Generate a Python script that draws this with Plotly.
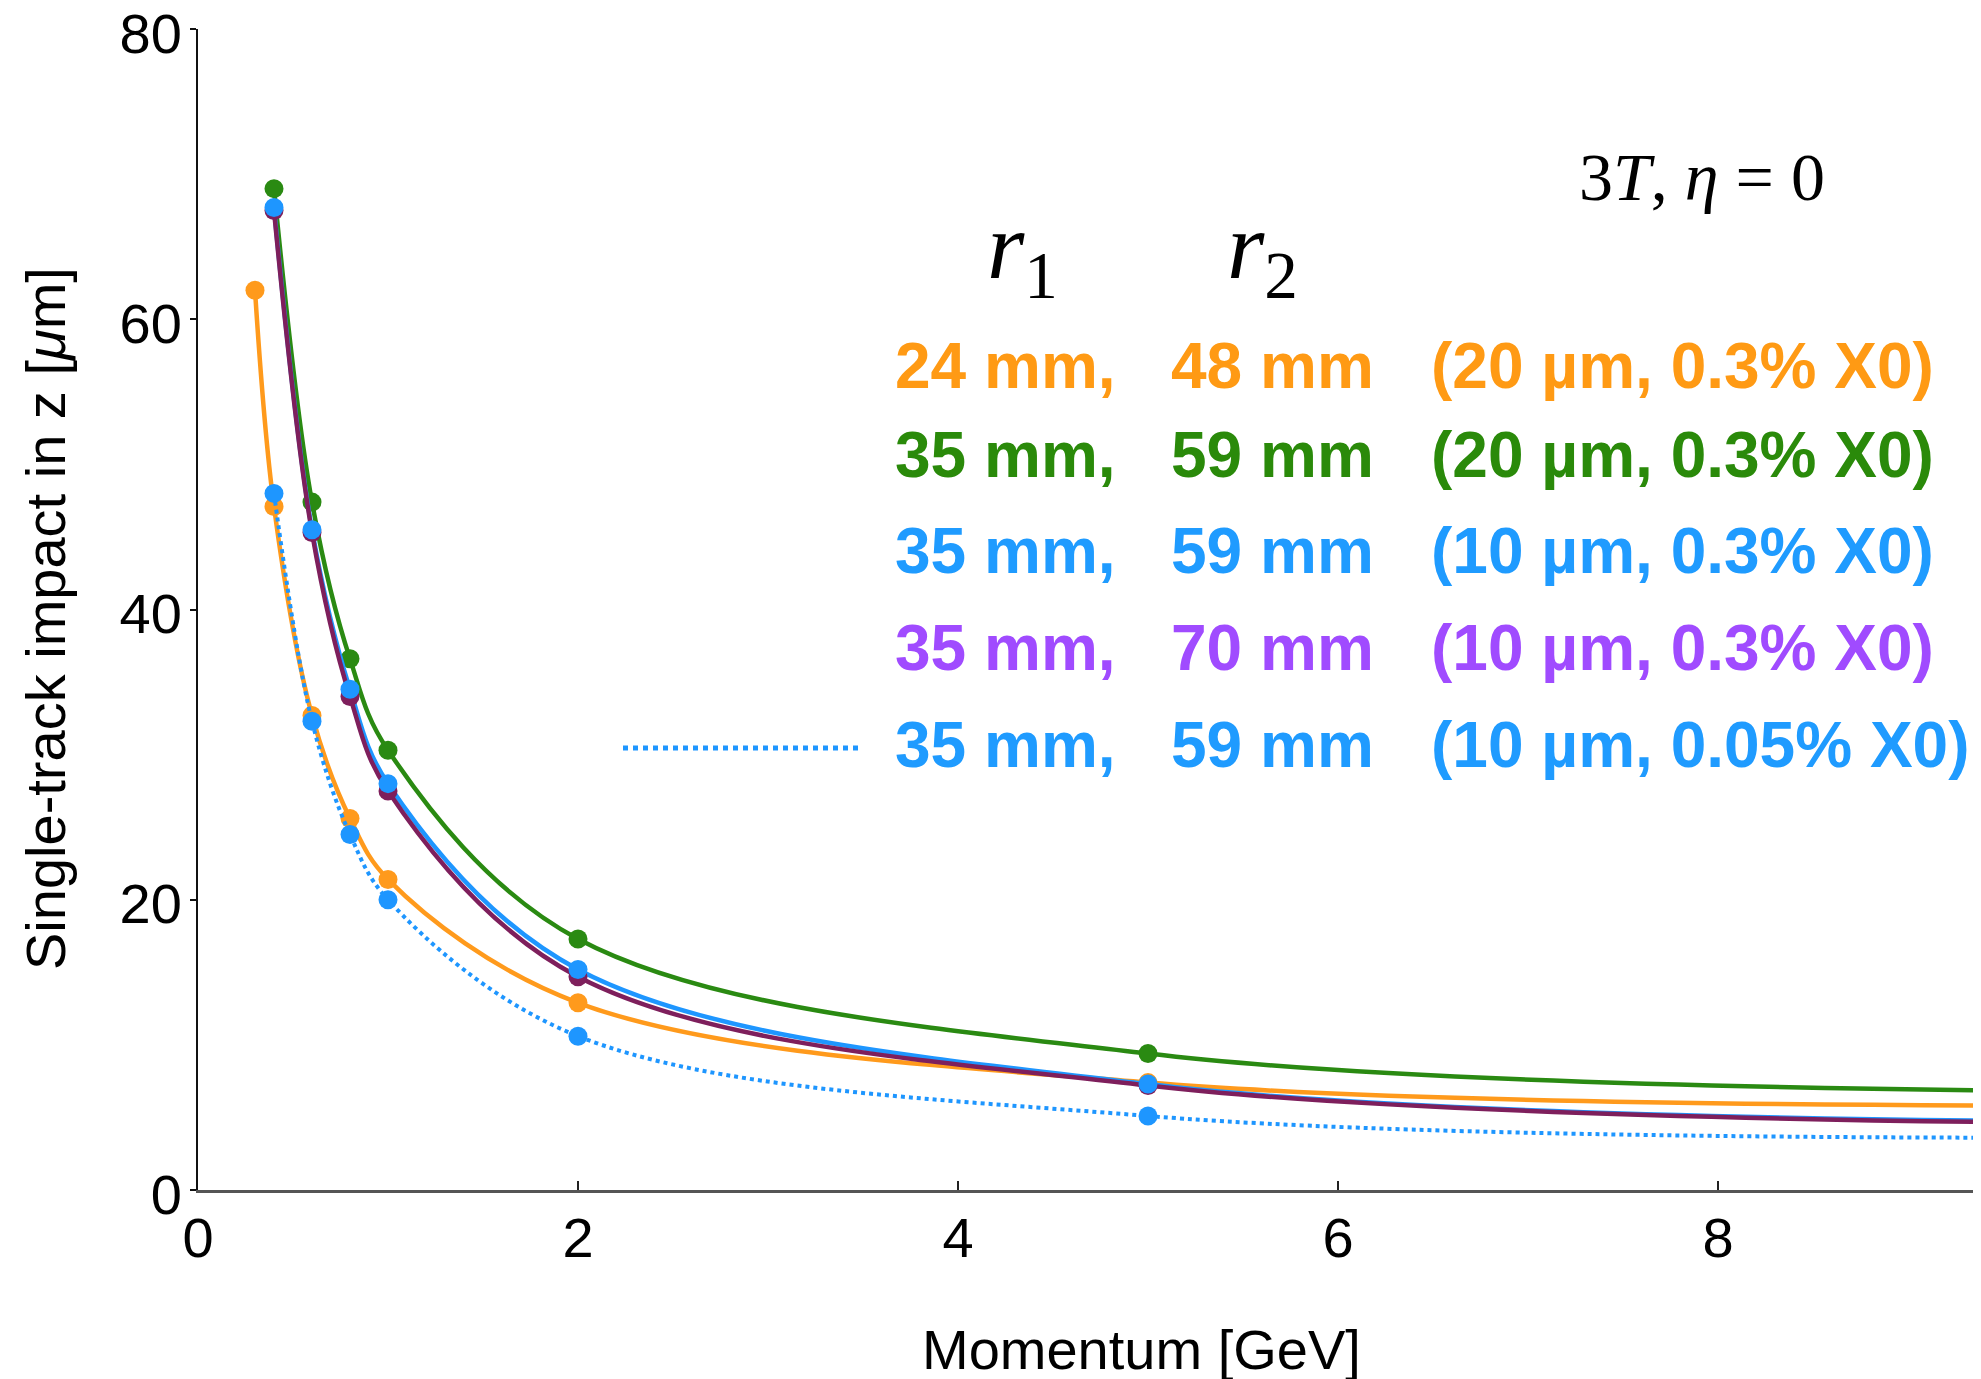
import plotly.graph_objects as go

# ---------------- data ----------------
p_orange = [0.3, 0.4, 0.6, 0.8, 1.0, 2.0, 5.0, 10.0]
y_orange = [62.0, 47.1, 32.7, 25.6, 21.4, 12.9, 7.4, 5.8]

p_main = [0.4, 0.6, 0.8, 1.0, 2.0, 5.0, 10.0]
y_green = [69.0, 47.4, 36.6, 30.3, 17.3, 9.4, 6.8]
y_blue = [67.7, 45.5, 34.5, 28.0, 15.2, 7.3, 4.7]
y_purple = [67.5, 45.3, 34.0, 27.5, 14.7, 7.2, 4.6]
y_blue_dot = [48.0, 32.3, 24.5, 20.0, 10.6, 5.1, 3.6]

x_ticks = [0, 2, 4, 6, 8]
y_ticks = [0, 20, 40, 60, 80]

legend_r1 = ["24 mm,", "35 mm,", "35 mm,", "35 mm,", "35 mm,"]
legend_r2 = ["48 mm", "59 mm", "59 mm", "70 mm", "59 mm"]
legend_spec = ["(20 µm, 0.3% X0)", "(20 µm, 0.3% X0)", "(10 µm, 0.3% X0)",
               "(10 µm, 0.3% X0)", "(10 µm, 0.05% X0)"]

# ---------------- styles ----------------
C_ORANGE_LINE = "#FF9A1C"
C_GREEN_LINE = "#2A8A12"
C_BLUE_LINE = "#1E96FF"
C_PURPLE_LINE = "#7E1F5C"
TXT_COLORS = ["#FF9A14", "#2A8A0A", "#1F9BFF", "#A04BFF", "#1F9BFF"]

OFF = 8  # page body margin of the browser
W, H = 1981 - OFF, 1379 - OFF
L, T = 198 - OFF, 29 - OFF
B = H - (1190 - OFF)
R = 0
PW, PH = W - L - R, H - T - B

def px(x):  # reference pixel -> paper
    return (x - 198) / PW

def py(y):
    return (1190 - y) / PH

LW = 4.5
MS = 19

fig = go.Figure()

def add(xs, ys, color, mode="lines+markers", dash="solid", lw=LW):
    fig.add_trace(go.Scatter(
        x=xs, y=ys, mode=mode,
        line=dict(color=color, width=lw, shape="spline", smoothing=1.0, dash=dash),
        marker=dict(color=color, size=MS),
        showlegend=False, hoverinfo="x+y"))

add(p_orange, y_orange, C_ORANGE_LINE)
add(p_main, y_green, C_GREEN_LINE)
add(p_main, y_blue_dot, C_BLUE_LINE, dash="dot", lw=4)
add(p_main, y_blue, C_BLUE_LINE, mode="lines")
add(p_main, y_purple, C_PURPLE_LINE)
add(p_main, y_blue, C_BLUE_LINE, mode="markers")

FONT = "Liberation Sans"
SERIF = "Liberation Serif"

x_per_unit = (1718 - 198) / 8
fig.update_xaxes(
    range=[0, (1981 - 198) / x_per_unit],
    tickvals=x_ticks, ticktext=[str(v) for v in x_ticks],
    showgrid=False, zeroline=False,
    showline=True, linecolor="#555555", linewidth=3,
    ticks="inside", ticklen=9, tickwidth=2, tickcolor="#222222",
    tickfont=dict(family=FONT, size=56, color="black"),
    ticklabelstandoff=-3, ticklabeloverflow="allow",
)
fig.update_yaxes(
    range=[0, 80],
    tickvals=y_ticks, ticktext=[str(v) for v in y_ticks],
    showgrid=False, zeroline=False,
    showline=True, linecolor="#111111", linewidth=2,
    ticks="outside", ticklen=6, tickwidth=2, tickcolor="#111111",
    tickfont=dict(family=FONT, size=56, color="black"),
    ticklabelstandoff=-3, ticklabelshift=4, ticklabeloverflow="allow",
)

ann = []
ann.append(dict(text="Momentum [GeV]", x=px(1141), y=py(1350), xref="paper", yref="paper",
                xanchor="center", yanchor="middle", showarrow=False,
                font=dict(family=FONT, size=56, color="black")))
ann.append(dict(text="Single-track impact in z [<i>μ</i>m]", x=px(45), y=py(619),
                xref="paper", yref="paper", xanchor="center", yanchor="middle",
                textangle=-90, showarrow=False,
                font=dict(family=FONT, size=56, color="black")))
ann.append(dict(text="3<i>T</i>, <i>η</i> = 0", x=px(1702), y=py(177), xref="paper", yref="paper",
                xanchor="center", yanchor="middle", showarrow=False,
                font=dict(family=SERIF, size=68, color="black")))
ann.append(dict(text="<i>r</i><sub>1</sub>", x=px(1022), y=py(252), xref="paper", yref="paper",
                xanchor="center", yanchor="middle", showarrow=False,
                font=dict(family=SERIF, size=96, color="black")))
ann.append(dict(text="<i>r</i><sub>2</sub>", x=px(1262), y=py(252), xref="paper", yref="paper",
                xanchor="center", yanchor="middle", showarrow=False,
                font=dict(family=SERIF, size=96, color="black")))

row_y = [366, 455, 551, 648, 745]
col_x = [893, 1169, 1429]
for i in range(5):
    for cx, txt in zip(col_x, [legend_r1[i], legend_r2[i], legend_spec[i]]):
        ann.append(dict(text="<b>" + txt + "</b>", x=px(cx), y=py(row_y[i]),
                        xref="paper", yref="paper", xanchor="left", yanchor="middle",
                        showarrow=False,
                        font=dict(family=FONT, size=64, color=TXT_COLORS[i])))

fig.update_layout(
    width=W, height=H,
    margin=dict(l=L, r=R, t=T, b=B, autoexpand=False),
    paper_bgcolor="white", plot_bgcolor="white",
    annotations=ann,
    shapes=[dict(type="line", xref="paper", yref="paper",
                 x0=px(623), x1=px(863), y0=py(748), y1=py(748),
                 line=dict(color=C_BLUE_LINE, width=5, dash="dot"))],
)

fig.write_html("out.html")
